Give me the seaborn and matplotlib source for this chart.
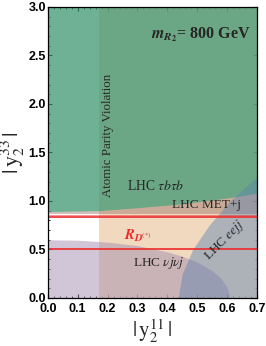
import matplotlib
matplotlib.use("Agg")
import matplotlib.pyplot as plt
import seaborn as sns
from matplotlib.ticker import MultipleLocator

# axis ranges
X_MAX = 0.7
Y_MAX = 3.0

# Atomic parity violation excludes |y2^11| above this value
APV_X = 0.17

# LHC nu j nu j exclusion (region below the curve)
NUJ_X = [0.0, 0.1, 0.2, 0.3, 0.4, 0.45, 0.5, 0.55, 0.58, 0.60, 0.61]
NUJ_Y = [0.60, 0.595, 0.575, 0.54, 0.475, 0.43, 0.37, 0.28, 0.20, 0.11, 0.0]

# LHC eejj exclusion (region right of the curve)
EEJJ_Y = [0.0, 0.25, 0.5, 0.75, 1.0, 1.25]
EEJJ_X = [0.436, 0.45, 0.485, 0.54, 0.61, 0.70]

# LHC tau b tau b exclusion (region above the curve)
TAU_X = [0.0, 0.17, 0.3, 0.45, 0.6, 0.7]
TAU_Y = [0.89, 0.90, 0.93, 0.97, 1.03, 1.08]

# LHC MET+j exclusion (region above)
MET_Y = 0.865

# R_D(*) band edges
RD_LOW = 0.505
RD_HIGH = 0.835

C_APV = "#eccaa6"
C_NUJ = "#a58fb0"
C_MET = "#9a7466"
C_TAU = "#0fa472"
C_EEJJ = "#5a82b0"
C_RD = "#ee2a2a"

SERIF = "Liberation Serif"


def main() -> None:
    sns.set_theme(style="ticks")
    plt.rcParams["mathtext.fontset"] = "stix"
    plt.rcParams["font.family"] = ["Liberation Sans", "DejaVu Sans"]

    fig = plt.figure(figsize=(2.66, 3.46), dpi=100)
    ax = fig.add_axes([0.18, 0.139, 0.786, 0.841])

    ax.axvspan(APV_X, X_MAX, color=C_APV, alpha=0.7, lw=0)
    ax.fill_between(NUJ_X, 0, NUJ_Y, color=C_NUJ, alpha=0.5, lw=0)
    ax.fill_between([0, X_MAX], MET_Y, Y_MAX, color=C_MET, alpha=0.45, lw=0)
    ax.fill_between(TAU_X, TAU_Y, Y_MAX, color=C_TAU, alpha=0.5, lw=0)
    ax.fill_betweenx(EEJJ_Y, EEJJ_X, X_MAX, color=C_EEJJ, alpha=0.45, lw=0)

    ax.axhline(RD_LOW, color=C_RD, lw=1.2)
    ax.axhline(RD_HIGH, color=C_RD, lw=1.2)
    ax.axhline(RD_HIGH + 0.018, color=C_RD, lw=0.6, alpha=0.6)

    ax.xaxis.set_major_locator(MultipleLocator(0.1))
    ax.xaxis.set_minor_locator(MultipleLocator(0.02))
    ax.yaxis.set_major_locator(MultipleLocator(0.5))
    ax.yaxis.set_minor_locator(MultipleLocator(0.1))
    ax.tick_params(which="both", direction="in", top=True, right=True,
                   colors="black", labelsize=9)
    ax.tick_params(axis="x", pad=3.5)
    ax.tick_params(axis="y", pad=1.5)
    ax.tick_params(which="major", length=3, width=0.8)
    ax.tick_params(which="minor", length=1.5, width=0.6)
    ax.set_xticks(ax.get_xticks())
    ax.set_yticks(ax.get_yticks())
    ax.set_xticklabels([f"{v:.1f}" for v in ax.get_xticks()], fontweight="bold")
    ax.set_yticklabels([f"{v:.1f}" for v in ax.get_yticks()], fontweight="bold")
    ax.set_xlim(0, X_MAX)
    ax.set_ylim(0, Y_MAX)
    for sp in ax.spines.values():
        sp.set_color("black")
        sp.set_linewidth(0.9)

    ax.set_xlabel(r"$|\,\mathrm{y}_2^{11}\,|$", fontsize=15, labelpad=2)
    ax.set_ylabel(r"$|\,\mathrm{y}_2^{33}\,|$", fontsize=16, labelpad=1)

    ax.text(0.68, 2.71, r"$\mathbfit{m}_{\mathbfit{R}_{\mathbf{2}}}$= 800 GeV",
            family=SERIF, fontweight="bold", fontsize=11.5, ha="right", va="center")
    ax.text(0.2, 1.67, "Atomic Parity Violation", family=SERIF, fontsize=9.3,
            rotation=90, ha="center", va="center")
    ax.text(0.36, 1.15, r"LHC $\tau b \tau b$", family=SERIF, fontsize=9.8,
            ha="center", va="center")
    ax.text(0.53, 0.96, "LHC MET+j", family=SERIF, fontsize=9.5,
            ha="center", va="center")
    ax.text(0.30, 0.64, r"$\mathbfit{R}_{\mathbfit{D}^{(*)}}$", color=C_RD,
            fontsize=10.5, ha="center", va="center")
    ax.text(0.37, 0.36, r"LHC $\nu j \nu j$", family=SERIF, fontsize=9.5,
            ha="center", va="center")
    ax.text(0.59, 0.59, r"LHC $eejj$", family=SERIF, fontsize=9.5,
            rotation=45, ha="center", va="center")

    fig.savefig("out.png", dpi=100)
    plt.close(fig)


if __name__ == "__main__":
    main()
